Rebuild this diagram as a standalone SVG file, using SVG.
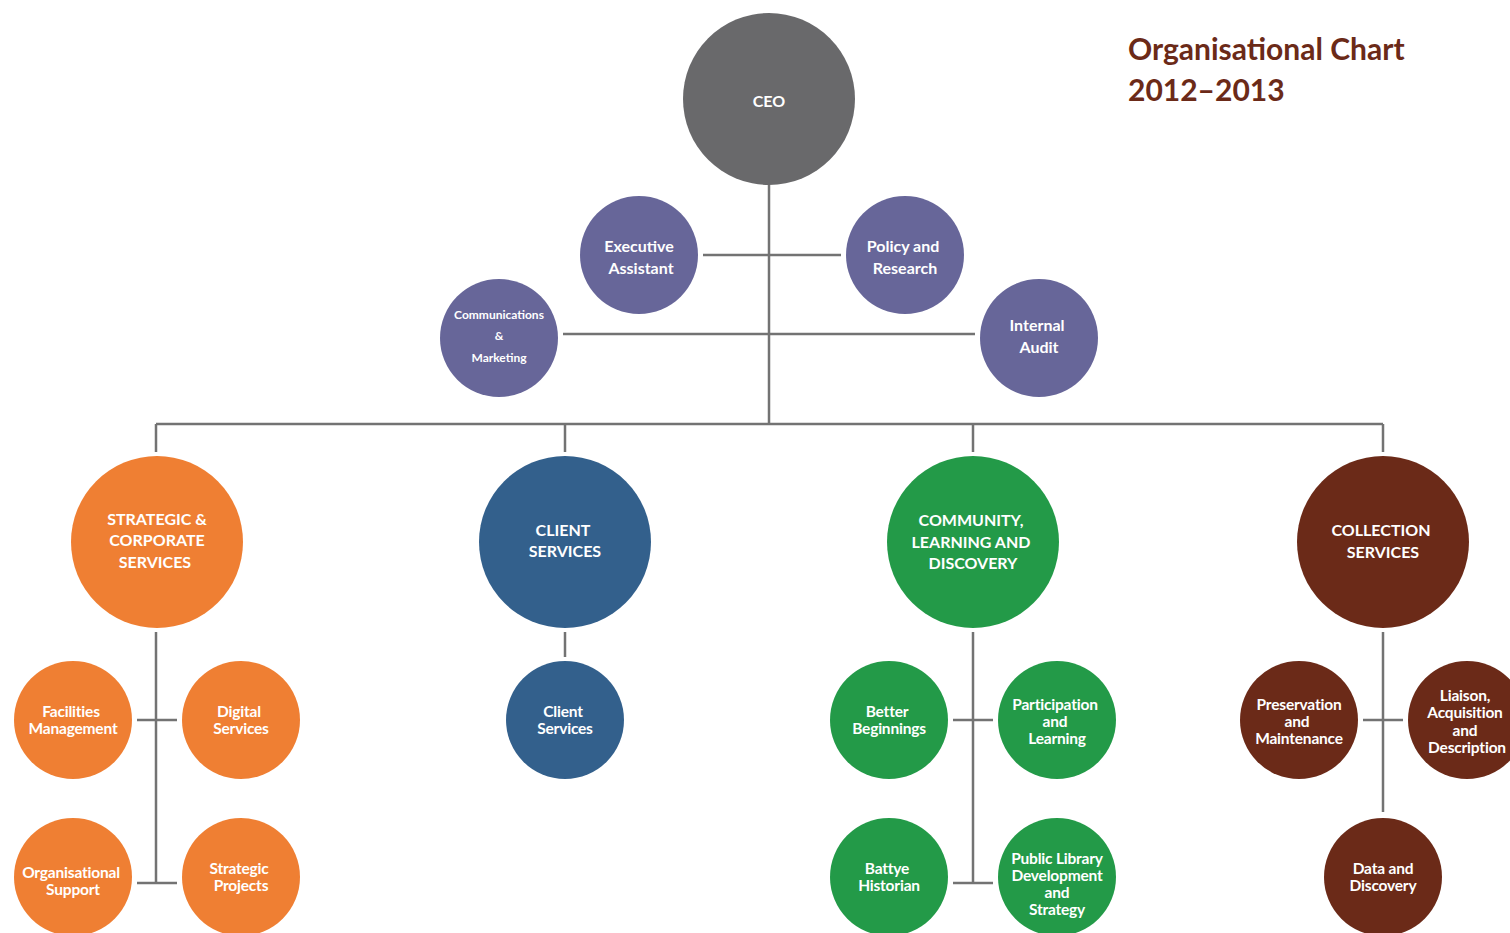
<svg xmlns="http://www.w3.org/2000/svg" width="1510" height="933" viewBox="0 0 1510 933">
<style>
  .lbl{font-family:Lato,"Open Sans","Liberation Sans",sans-serif;font-weight:bold;fill:#ffffff;text-anchor:middle;font-size:16px}
  .ch{font-size:15.5px;letter-spacing:-0.2px}
  .sm{font-size:12px}
  .ln{stroke:#737373;stroke-width:2.5;fill:none}
  .ceo{fill:#69696b}
  .pur{fill:#676699}
  .ora{fill:#ef7f33}
  .blu{fill:#33608c}
  .grn{fill:#239a48}
  .brn{fill:#6b2a18}
  .title{font-family:Lato,"Open Sans","Liberation Sans",sans-serif;font-weight:bold;fill:#6b2a18;font-size:30px}
</style>
<rect width="1510" height="933" fill="#ffffff"/>
<g id="connectors">
  <path class="ln" d="M769 185V424M703 255H841M563 334H975M156 424H1383M156 424V452M565 424V452M973 424V452M1383 424V452"/>
  <path class="ln" d="M156 632V883M137 720H177M137 883H177"/>
  <path class="ln" d="M565 632V657"/>
  <path class="ln" d="M973 632V883M953 720H993M953 883H993"/>
  <path class="ln" d="M1383 632V812M1363 720H1403"/>
</g>
<g id="title">
  <text class="title" x="1128" y="60">Organisational Chart</text>
  <text class="title" x="1128" y="101">2012–2013</text>
</g>
<g id="ceo"><circle class="ceo" cx="769" cy="99" r="86"/><text class="lbl" x="769" y="107">CEO</text></g>
<g id="executive-assistant"><circle class="pur" cx="639" cy="255" r="59"/><text class="lbl" x="639" y="252">Executive</text><text class="lbl" x="641" y="274">Assistant</text></g>
<g id="policy-research"><circle class="pur" cx="905" cy="255" r="59"/><text class="lbl" x="903" y="252">Policy and</text><text class="lbl" x="905" y="274">Research</text></g>
<g id="communications-marketing"><circle class="pur" cx="499" cy="338" r="59"/><text class="lbl sm" x="499" y="319">Communications</text><text class="lbl sm" x="499" y="340">&amp;</text><text class="lbl sm" x="499" y="362">Marketing</text></g>
<g id="internal-audit"><circle class="pur" cx="1039" cy="338" r="59"/><text class="lbl" x="1037" y="331">Internal</text><text class="lbl" x="1039" y="353">Audit</text></g>

<g id="strategic-corporate"><circle class="ora" cx="157" cy="542" r="86"/><text class="lbl" x="157" y="525">STRATEGIC &amp;</text><text class="lbl" x="157" y="546">CORPORATE</text><text class="lbl" x="155" y="568">SERVICES</text></g>
<g id="client-services-div"><circle class="blu" cx="565" cy="542" r="86"/><text class="lbl" x="563" y="536">CLIENT</text><text class="lbl" x="565" y="557">SERVICES</text></g>
<g id="community-learning"><circle class="grn" cx="973" cy="542" r="86"/><text class="lbl" x="971" y="526">COMMUNITY,</text><text class="lbl" x="971" y="548">LEARNING AND</text><text class="lbl" x="973" y="569">DISCOVERY</text></g>
<g id="collection-services"><circle class="brn" cx="1383" cy="542" r="86"/><text class="lbl" x="1381" y="536">COLLECTION</text><text class="lbl" x="1383" y="558">SERVICES</text></g>

<g id="facilities"><circle class="ora" cx="73" cy="720" r="59"/><text class="lbl ch" x="71" y="717">Facilities</text><text class="lbl ch" x="73" y="734">Management</text></g>
<g id="digital"><circle class="ora" cx="241" cy="720" r="59"/><text class="lbl ch" x="239" y="717">Digital</text><text class="lbl ch" x="241" y="734">Services</text></g>
<g id="org-support"><circle class="ora" cx="73" cy="877" r="59"/><text class="lbl ch" x="71" y="878">Organisational</text><text class="lbl ch" x="73" y="895">Support</text></g>
<g id="strategic-projects"><circle class="ora" cx="241" cy="877" r="59"/><text class="lbl ch" x="239" y="874">Strategic</text><text class="lbl ch" x="241" y="891">Projects</text></g>

<g id="client-services"><circle class="blu" cx="565" cy="720" r="59"/><text class="lbl ch" x="563" y="717">Client</text><text class="lbl ch" x="565" y="734">Services</text></g>

<g id="better-beginnings"><circle class="grn" cx="889" cy="720" r="59"/><text class="lbl ch" x="887" y="717">Better</text><text class="lbl ch" x="889" y="734">Beginnings</text></g>
<g id="participation"><circle class="grn" cx="1057" cy="720" r="59"/><text class="lbl ch" x="1055" y="710">Participation</text><text class="lbl ch" x="1055" y="727">and</text><text class="lbl ch" x="1057" y="744">Learning</text></g>
<g id="battye"><circle class="grn" cx="889" cy="877" r="59"/><text class="lbl ch" x="887" y="874">Battye</text><text class="lbl ch" x="889" y="891">Historian</text></g>
<g id="public-library"><circle class="grn" cx="1057" cy="877" r="59"/><text class="lbl ch" x="1057" y="864">Public Library</text><text class="lbl ch" x="1057" y="881">Development</text><text class="lbl ch" x="1057" y="898">and</text><text class="lbl ch" x="1057" y="915">Strategy</text></g>

<g id="preservation"><circle class="brn" cx="1299" cy="720" r="59"/><text class="lbl ch" x="1299" y="710">Preservation</text><text class="lbl ch" x="1297" y="727">and</text><text class="lbl ch" x="1299" y="744">Maintenance</text></g>
<g id="liaison"><circle class="brn" cx="1467" cy="720" r="59"/><text class="lbl ch" x="1465" y="701">Liaison,</text><text class="lbl ch" x="1465" y="718">Acquisition</text><text class="lbl ch" x="1465" y="736">and</text><text class="lbl ch" x="1467" y="753">Description</text></g>
<g id="data-discovery"><circle class="brn" cx="1383" cy="877" r="59"/><text class="lbl ch" x="1383" y="874">Data and</text><text class="lbl ch" x="1383" y="891">Discovery</text></g>
</svg>
